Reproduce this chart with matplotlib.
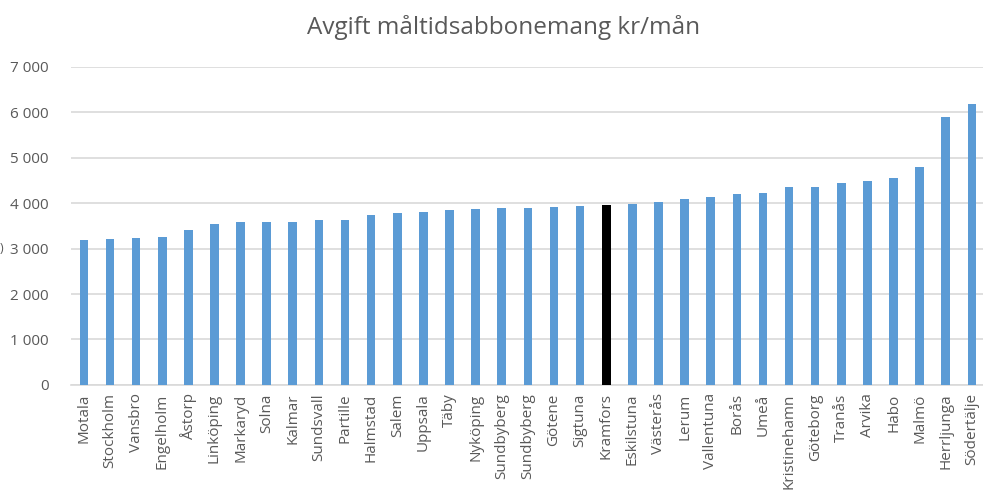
import matplotlib
matplotlib.use("Agg")
import matplotlib.pyplot as plt
from matplotlib.ticker import FuncFormatter

# kommuner och avgift (kr/mån)
kommuner = ["Motala", "Stockholm", "Vansbro", "Engelholm", "Åstorp", "Linköping",
            "Markaryd", "Solna", "Kalmar", "Sundsvall", "Partille", "Halmstad",
            "Salem", "Uppsala", "Täby", "Nyköping", "Sundbyberg", "Sundbyberg",
            "Götene", "Sigtuna", "Kramfors", "Eskilstuna", "Västerås", "Lerum",
            "Vallentuna", "Borås", "Umeå", "Kristinehamn", "Göteborg", "Tranås",
            "Arvika", "Habo", "Malmö", "Herrljunga", "Södertälje"]
avgift = [3185, 3205, 3227, 3250, 3402, 3532,
          3576, 3576, 3576, 3620, 3620, 3730,
          3774, 3796, 3840, 3862, 3884, 3884,
          3906, 3928, 3955, 3978, 4022, 4088,
          4132, 4198, 4220, 4352, 4360, 4452,
          4496, 4562, 4804, 5904, 6184]
markerad = "Kramfors"

plt.rcParams['font.family'] = ['Open Sans', 'DejaVu Sans']

fig = plt.figure(figsize=(9.83, 4.91), dpi=100)
ax = fig.add_axes([0.072, 0.216, 0.930, 0.648])

farger = ["#000000" if k == markerad else "#5B9BD5" for k in kommuner]
x = list(range(len(kommuner)))
ax.bar(x, avgift, width=0.33, color=farger, zorder=3)

ax.set_xlim(-0.5, len(kommuner) - 0.5)
ax.set_ylim(0, 7000)
ax.set_yticks(range(0, 7001, 1000))
ax.yaxis.set_major_formatter(FuncFormatter(lambda v, p: f"{int(v):,}".replace(",", " ")))
ax.grid(axis="y", color="#D9D9D9", linewidth=1.2, zorder=0)

ax.set_xticks(x)
ax.set_xticklabels(kommuner, rotation=90)
ax.tick_params(axis="both", length=0, labelsize=11, labelcolor="#595959")
ax.tick_params(axis="x", pad=6)
ax.tick_params(axis="y", pad=16)

for side in ["top", "right", "left"]:
    ax.spines[side].set_visible(False)
ax.spines["bottom"].set_color("#D9D9D9")
ax.spines["bottom"].set_linewidth(1.2)

fig.text(0.512, 0.945, "Avgift måltidsabbonemang kr/mån", ha="center", va="center",
         fontsize=17.5, color="#595959")
fig.text(0.0, 0.493, ")", ha="left", va="center", fontsize=9, color="#595959")

fig.savefig("out.png", dpi=100)
